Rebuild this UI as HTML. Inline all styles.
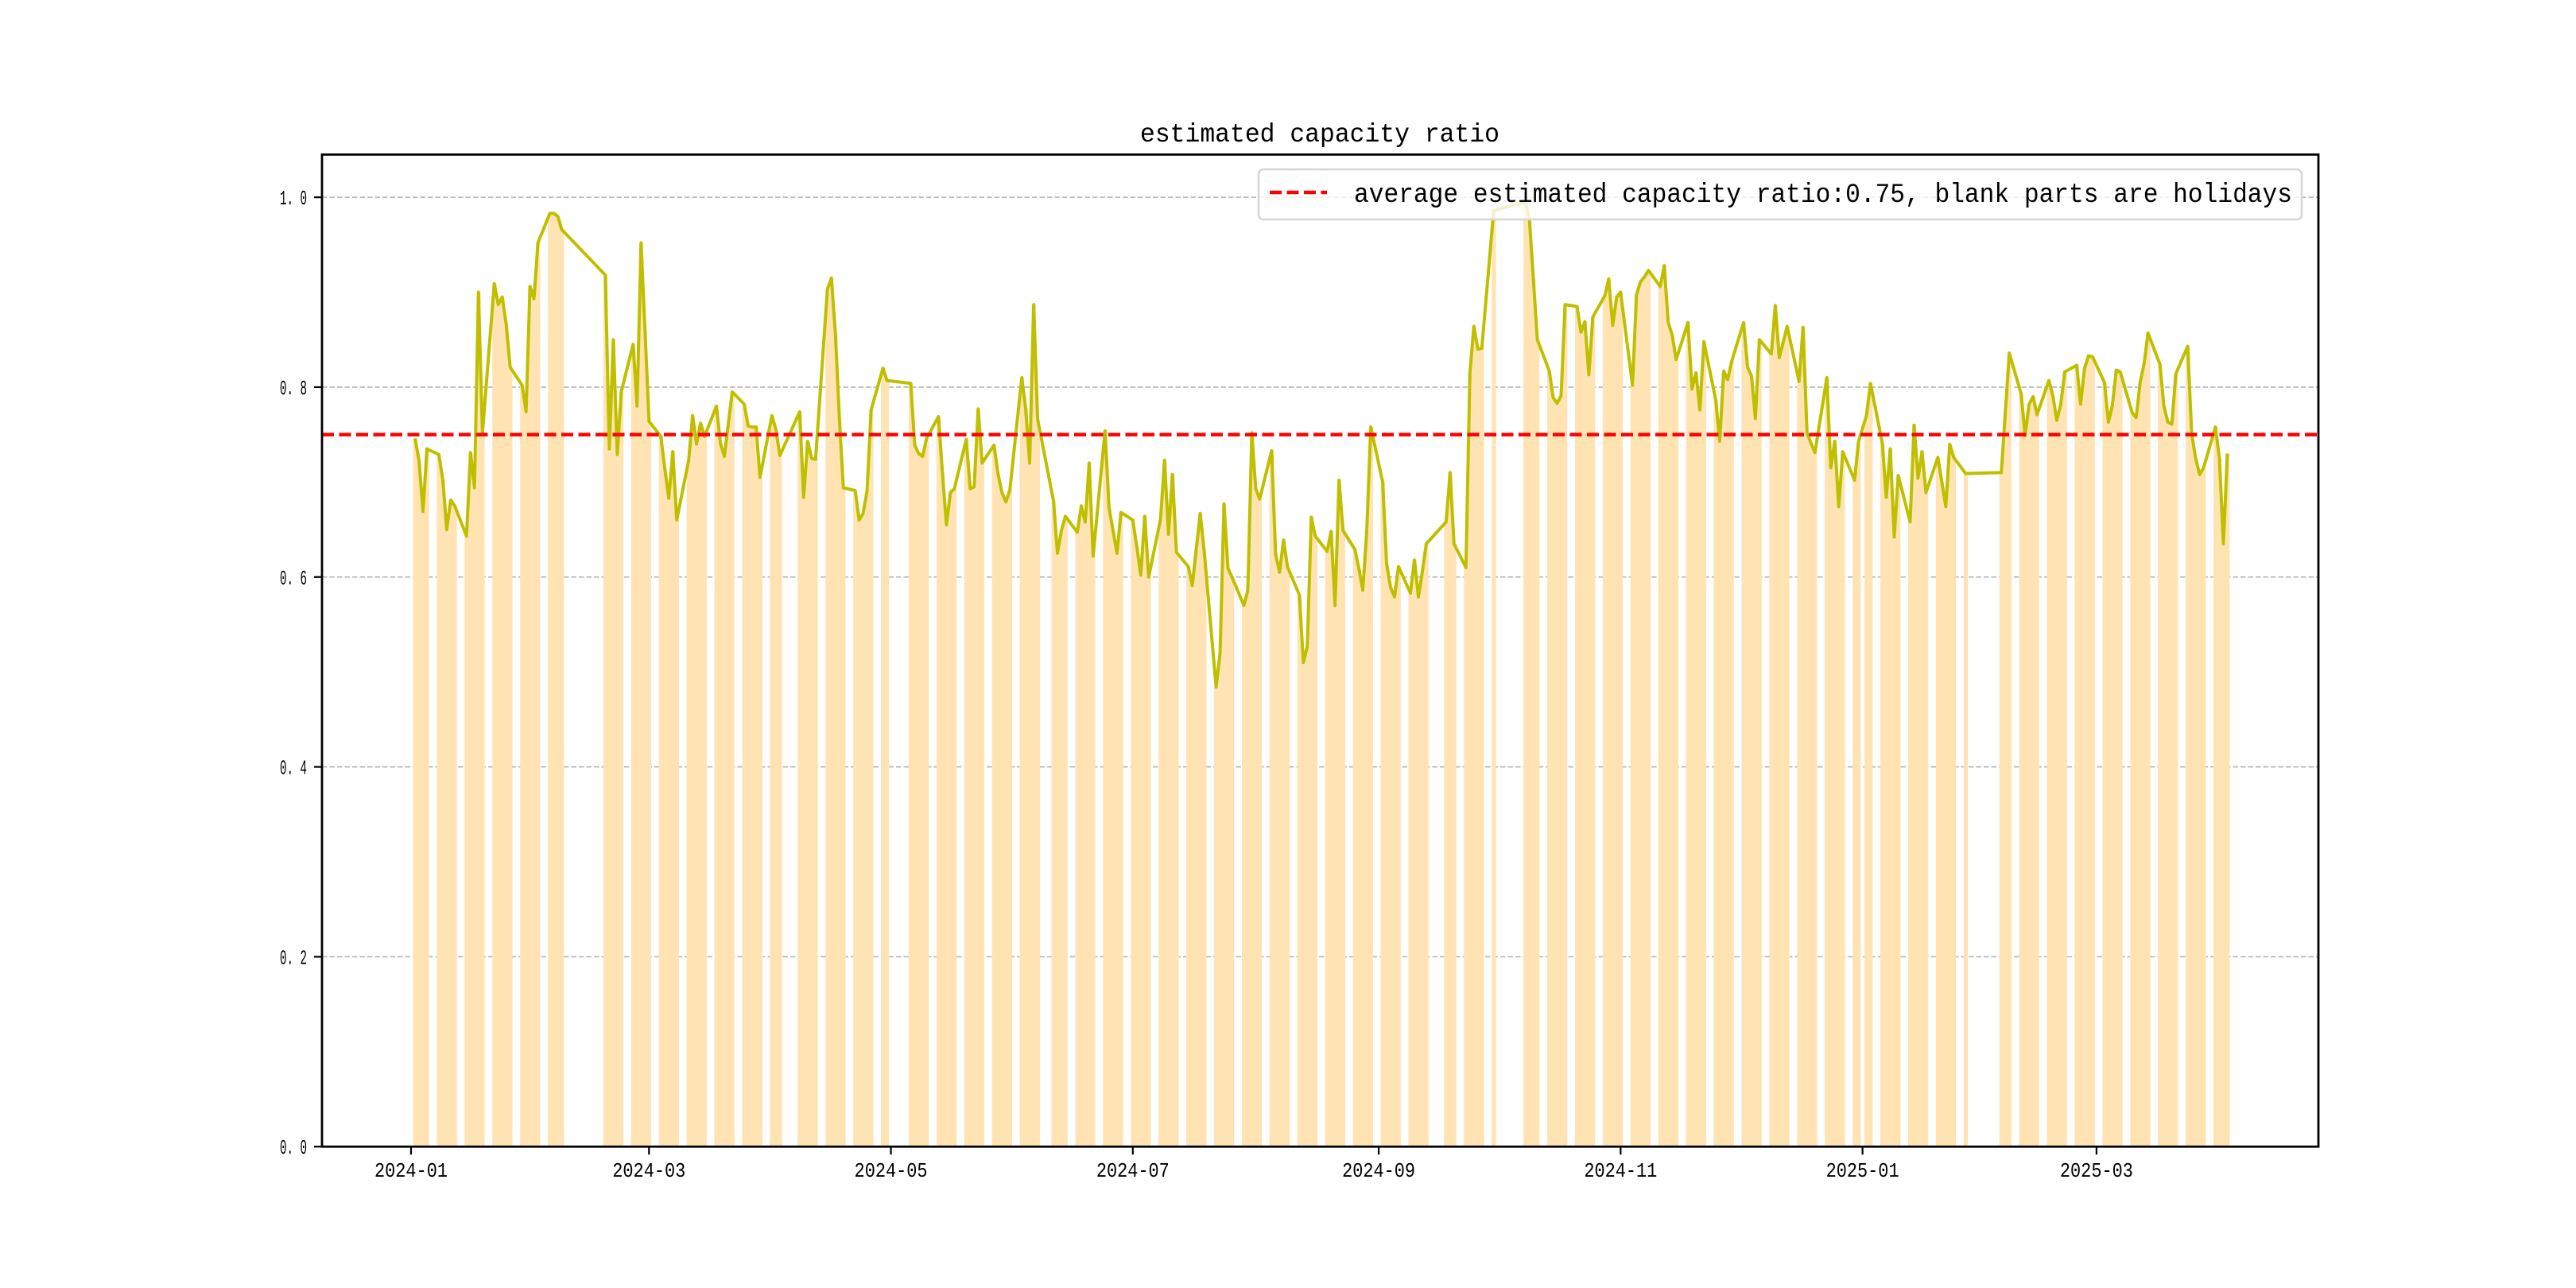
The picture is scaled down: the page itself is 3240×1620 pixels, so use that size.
<!DOCTYPE html>
<html><head><meta charset="utf-8"><style>
html,body{margin:0;padding:0;background:#fff;}
svg{display:block;}
text{font-family:"Liberation Mono","WenQuanYi Zen Hei",monospace;}
</style></head><body>
<svg id="chart" xmlns="http://www.w3.org/2000/svg" width="3240" height="1620" viewBox="0 0 3240 1620">
<rect x="0" y="0" width="3240" height="1620" fill="#fff"/>
<g id="grid"></g>
<g id="bars"></g>
<g id="lines"></g>
<g id="axes"></g>
<text x="1660" y="178" text-anchor="middle" font-size="33" textLength="452" lengthAdjust="spacingAndGlyphs">estimated capacity ratio</text>
<g>
<rect x="1583" y="213" width="1312" height="63" rx="6" fill="#fff" fill-opacity="0.8" stroke="#d6d6d6" stroke-width="2.5"/>
<line x1="1597" y1="242" x2="1669" y2="242" stroke="#ff0000" stroke-width="4.5" stroke-dasharray="15,6.5"/>
<text x="1703" y="254" font-size="34" textLength="1180" lengthAdjust="spacingAndGlyphs">average estimated capacity ratio:0.75, blank parts are holidays</text>
</g>
</svg>
<script>
const holidays = ["2024-01-01","2024-02-09","2024-02-12","2024-02-13","2024-02-14","2024-02-15","2024-02-16","2024-04-04","2024-04-05","2024-05-01","2024-05-02","2024-05-03","2024-06-10","2024-09-16","2024-09-17","2024-10-01","2024-10-02","2024-10-03","2024-10-04","2024-10-07","2025-01-01","2025-01-28","2025-01-29","2025-01-30","2025-01-31","2025-02-03","2025-02-04"];
const startDate = "2024-01-02";
const endDate = "2025-04-03";
const ratioValues = [
.746,.723,.669,.735,
.729,.703,.650,.681,.675,
.643,.731,.694,.900,.752,
.909,.887,.895,.866,.821,
.802,.774,.906,.893,.952,
.983,.983,.980,.966,
.918,.735,.850,.729,.795,
.845,.780,.952,.859,.764,
.748,.714,.683,.732,.660,
.723,.770,.740,.762,.748,
.780,.741,.727,.761,.795,
.782,.759,.758,.758,.705,
.770,.755,.728,
.774,.684,.743,.725,.724,
.903,.915,.857,.768,.694,
.691,.660,.667,.691,.776,
.820,.807,
.804,.739,.730,.727,.746,
.769,.709,.655,.689,.693,
.745,.693,.695,.777,.720,
.739,.709,.689,.679,.692,
.810,.777,.720,.887,.766,
.680,.625,.649,.664,
.647,.675,.658,.720,.622,
.754,.673,.649,.625,.668,
.660,.632,.602,.664,.600,
.661,.723,.645,.708,.626,
.611,.591,.629,.667,.627,
.484,.520,.677,.609,.600,
.570,.586,.752,.693,.682,
.733,.624,.605,.639,.611,
.581,.510,.527,.663,.643,
.627,.648,.570,.702,.649,
.629,.609,.586,.649,.758,
.700,.614,.589,.579,.611,
.583,.618,.579,.605,.635,
.658,.710,.635,
.610,.815,.864,.840,.841,
.986,
.995,.977,.914,.850,
.817,.789,.783,.791,.887,
.885,.858,.869,.813,.874,
.896,.914,.865,.895,.900,
.802,.897,.911,.916,.923,
.906,.928,.868,.855,.829,
.868,.798,.815,.776,.848,
.786,.743,.817,.808,.827,
.868,.821,.812,.767,.850,
.835,.886,.831,.847,.864,
.806,.863,.752,.741,.731,
.810,.715,.743,.674,.732,
.702,.743,
.770,.804,
.741,.684,.735,.642,.707,
.658,.760,.704,.732,.689,
.726,.700,.674,.740,.726,
.709,
.710,.773,.836,
.793,.749,.782,.790,.771,
.807,.791,.765,.782,.816,
.823,.782,.820,.833,.832,
.805,.763,.781,.818,.816,
.773,.768,.805,.825,.857,
.824,.780,.763,.761,.814,
.843,.751,.725,.708,.715,
.758,.725,.635,.730
];
const averageRatio = 0.75;
const yTicks = [0.0, 0.2, 0.4, 0.6, 0.8, 1.0];
const yTickLabels = ["0. 0","0. 2","0. 4","0. 6","0. 8","1. 0"];
const xTickDates = ["2024-01-01","2024-03-01","2024-05-01","2024-07-01","2024-09-01","2024-11-01","2025-01-01","2025-03-01"];
const xTickLabels = ["2024-01","2024-03","2024-05","2024-07","2024-09","2024-11","2025-01","2025-03"];

const NS = "http://www.w3.org/2000/svg";
const L = 405, R = 2916, T = 194.4, B = 1442.2;
const DAY0 = Date.UTC(2024,0,1);
const PXDAY = 4.988, X0 = 517;
const YMAX = 1.045;
function dayIndex(s){const p=s.split("-");return (Date.UTC(+p[0],+p[1]-1,+p[2])-DAY0)/86400000;}
function xScale(d){return X0 + d*PXDAY;}
function yScale(v){return B - v/YMAX*(B-T);}
function mk(tag, attrs, parent){const e=document.createElementNS(NS,tag);for(const k in attrs)e.setAttribute(k,attrs[k]);parent.appendChild(e);return e;}

// trading days
const hol = new Set(holidays);
const tradingDays = [];
for(let d=dayIndex(startDate); d<=dayIndex(endDate); d++){
  const dt = new Date(DAY0 + d*86400000);
  const wd = dt.getUTCDay();
  const iso = dt.toISOString().slice(0,10);
  if(wd===0||wd===6||hol.has(iso)) continue;
  tradingDays.push(d);
}
const n = Math.min(tradingDays.length, ratioValues.length);

const grid = document.getElementById('grid');
yTicks.forEach((v,i)=>{
  if(v===0) return;
  const g = mk('line',{x1:L,x2:R,y1:yScale(v),y2:yScale(v),stroke:'#b0b0b0','stroke-width':1.6,'stroke-dasharray':'6.5,3'},grid);
  
  
});

const bars = document.getElementById('bars');
for(let i=0;i<n;i++){
  const d = tradingDays[i];
  const b = mk('rect',{x:xScale(d)-PXDAY/2,y:yScale(ratioValues[i]),width:PXDAY+0.3,height:B-yScale(ratioValues[i]),fill:'#ffe3b3'},bars);
  
  
}

const lines = document.getElementById('lines');
let pts = [];
for(let i=0;i<n;i++) pts.push(xScale(tradingDays[i]).toFixed(1)+','+yScale(ratioValues[i]).toFixed(1));
const pl = mk('polyline',{points:pts.join(' '),fill:'none',stroke:'#bfbf00','stroke-width':4,'stroke-linejoin':'round'},lines);


const avg = mk('line',{x1:L,x2:R,y1:yScale(averageRatio),y2:yScale(averageRatio),stroke:'#ff0000','stroke-width':4.5,'stroke-dasharray':'15,6.5'},lines);



const axes = document.getElementById('axes');
const frame = mk('rect',{x:L,y:T,width:R-L,height:B-T,fill:'none',stroke:'#000','stroke-width':2.8},axes);


yTicks.forEach((v,i)=>{
  const y = yScale(v);
  const t = mk('line',{x1:L-10,x2:L,y1:y,y2:y,stroke:'#000','stroke-width':2.2},axes);
  
  
  const lab = mk('text',{x:386,y:y+9,'text-anchor':'end','font-size':26,textLength:34,lengthAdjust:'spacingAndGlyphs',fill:'#000'},axes);
  lab.textContent = yTickLabels[i];
  
  
});
xTickDates.forEach((s,i)=>{
  const x = xScale(dayIndex(s));
  const t = mk('line',{x1:x,x2:x,y1:B,y2:B+10,stroke:'#000','stroke-width':2.2},axes);
  
  
  const lab = mk('text',{x:x,y:B+38,'text-anchor':'middle','font-size':26,textLength:92,lengthAdjust:'spacingAndGlyphs',fill:'#000'},axes);
  lab.textContent = xTickLabels[i];
  
  
});
</script>
</body></html>
